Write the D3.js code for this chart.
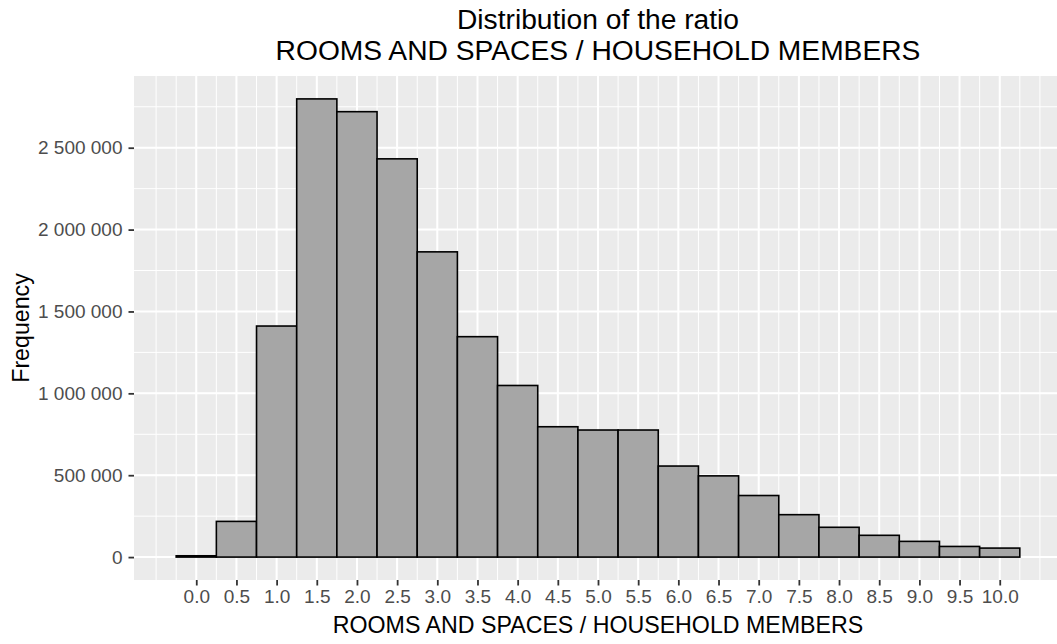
<!DOCTYPE html>
<html>
<head>
<meta charset="utf-8">
<script src="https://cdn.jsdelivr.net/npm/d3@7/dist/d3.min.js"></script>
<style>
  html, body { margin: 0; padding: 0; background: #ffffff; }
  svg { display: block; font-family: "Liberation Sans", Arial, sans-serif; }
</style>
</head>
<body>
<svg id="chart" width="1057" height="644"></svg>
<script>
// ---- data ----
const binCenters = [0.0, 0.5, 1.0, 1.5, 2.0, 2.5, 3.0, 3.5, 4.0, 4.5, 5.0, 5.5, 6.0, 6.5, 7.0, 7.5, 8.0, 8.5, 9.0, 9.5, 10.0];
const counts = [8000, 218000, 1411000, 2798000, 2720000, 2432000, 1864000, 1346000, 1048000, 796000, 776000, 776000, 556000, 496000, 376000, 259000, 182000, 133000, 96000, 65000, 55000];
const binWidth = 0.5;
const xTicks = [0.0, 0.5, 1.0, 1.5, 2.0, 2.5, 3.0, 3.5, 4.0, 4.5, 5.0, 5.5, 6.0, 6.5, 7.0, 7.5, 8.0, 8.5, 9.0, 9.5, 10.0];
const yTicks = [0, 500000, 1000000, 1500000, 2000000, 2500000];
const titleLines = ["Distribution of the ratio", "ROOMS AND SPACES / HOUSEHOLD MEMBERS"];
const xTitle = "ROOMS AND SPACES / HOUSEHOLD MEMBERS";
const yTitle = "Frequency";

// ---- layout ----
const panel = {left: 134, right: 1062, top: 76, bottom: 580};
const svg = d3.select("#chart");

const xMin = d3.min(binCenters) - binWidth / 2, xMax = d3.max(binCenters) + binWidth / 2;
const xPad = (xMax - xMin) * 0.05;
const x = d3.scaleLinear().domain([xMin - xPad, xMax + xPad]).range([panel.left, panel.right]);
const yMaxData = d3.max(counts);
const y = d3.scaleLinear().domain([-0.05 * yMaxData, 1.05 * yMaxData]).range([panel.bottom, panel.top]);

// panel background
svg.append("rect")
  .attr("x", panel.left).attr("y", panel.top)
  .attr("width", panel.right - panel.left).attr("height", panel.bottom - panel.top)
  .attr("fill", "#EBEBEB");

// minor grid
const xStep = xTicks[1] - xTicks[0];
const xMinor = d3.range(xTicks[0] - xStep, xTicks[xTicks.length - 1] + xStep + 1e-9, xStep / 2)
  .filter(v => v >= x.domain()[0] && v <= x.domain()[1]);
const yStep = yTicks[1] - yTicks[0];
const yMinor = d3.range(yTicks[0] - yStep, yTicks[yTicks.length - 1] + yStep + 1, yStep / 2)
  .filter(v => v >= y.domain()[0] && v <= y.domain()[1]);

const grid = svg.append("g");
grid.selectAll(".xminor").data(xMinor).join("line")
  .attr("x1", d => x(d)).attr("x2", d => x(d))
  .attr("y1", panel.top).attr("y2", panel.bottom)
  .attr("stroke", "#ffffff").attr("stroke-width", 1);
grid.selectAll(".yminor").data(yMinor).join("line")
  .attr("class", "yminor")
  .attr("y1", d => y(d)).attr("y2", d => y(d))
  .attr("x1", panel.left).attr("x2", panel.right)
  .attr("stroke", "#ffffff").attr("stroke-width", 1);
grid.selectAll(".xmajor").data(xTicks).join("line")
  .attr("class", "xmajor")
  .attr("x1", d => x(d)).attr("x2", d => x(d))
  .attr("y1", panel.top).attr("y2", panel.bottom)
  .attr("stroke", "#ffffff").attr("stroke-width", 2);
grid.selectAll(".ymajor").data(yTicks).join("line")
  .attr("class", "ymajor")
  .attr("y1", d => y(d)).attr("y2", d => y(d))
  .attr("x1", panel.left).attr("x2", panel.right)
  .attr("stroke", "#ffffff").attr("stroke-width", 2);

// bars
svg.append("g").selectAll("rect").data(binCenters.map((c, i) => ({c, v: counts[i]}))).join("rect")
  .attr("x", d => x(d.c - binWidth / 2))
  .attr("width", d => x(d.c + binWidth / 2) - x(d.c - binWidth / 2))
  .attr("y", d => y(d.v))
  .attr("height", d => y(0) - y(d.v))
  .attr("fill", "#A6A6A6")
  .attr("stroke", "#000000")
  .attr("stroke-width", 1.6);

// axes
const fmt = v => d3.format(",")(v).replace(/,/g, " ");
const xAxis = d3.axisBottom(x).tickValues(xTicks).tickFormat(d3.format(".1f")).tickSize(5.5).tickPadding(4);
const yAxis = d3.axisLeft(y).tickValues(yTicks).tickFormat(fmt).tickSize(5.5).tickPadding(6);

const gx = svg.append("g").attr("transform", `translate(0,${panel.bottom})`).call(xAxis);
const gy = svg.append("g").attr("transform", `translate(${panel.left},0)`).call(yAxis);
[gx, gy].forEach(g => {
  g.select(".domain").remove();
  g.selectAll(".tick line").attr("stroke", "#333333").attr("stroke-width", 1.8);
  g.selectAll(".tick text").attr("fill", "#4D4D4D").style("font-size", "19px")
    .style("font-family", "'Liberation Sans', Arial, sans-serif");
});

// titles
svg.append("text")
  .attr("x", (panel.left + panel.right) / 2).attr("y", 633)
  .attr("text-anchor", "middle").attr("fill", "#000")
  .style("font-size", "23.2px").text(xTitle);

svg.append("text")
  .attr("transform", `translate(29,${(panel.top + panel.bottom) / 2}) rotate(-90)`)
  .attr("text-anchor", "middle").attr("fill", "#000")
  .style("font-size", "23.2px").text(yTitle);

const t = svg.append("text").attr("text-anchor", "middle").attr("fill", "#000").style("font-size", "28.2px");
titleLines.forEach((line, i) => {
  t.append("tspan").attr("x", (panel.left + panel.right) / 2).attr("y", 29 + i * 30.5).text(line);
});
</script>
</body>
</html>
